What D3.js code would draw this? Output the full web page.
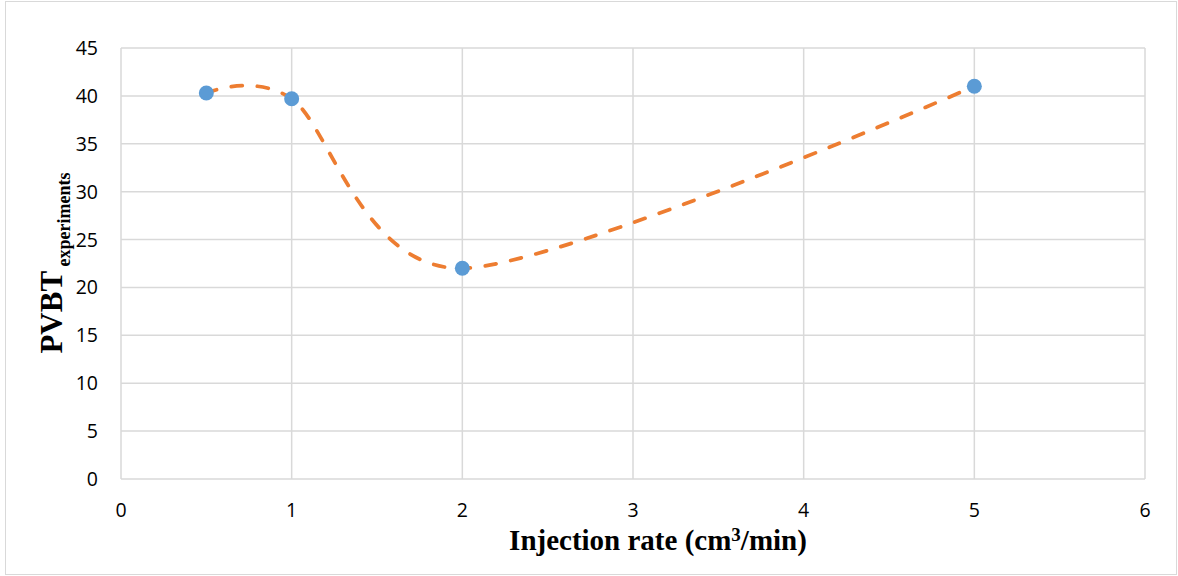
<!DOCTYPE html>
<html>
<head>
<meta charset="utf-8">
<script src="https://cdn.jsdelivr.net/npm/d3@7"></script>
<style>
  html, body { margin: 0; padding: 0; background: #fff; }
  svg { display: block; }
</style>
</head>
<body>
<svg id="chart" width="1178" height="576"></svg>
<script>
// Injection rate (cm3/min) vs. PVBT from experiments
const injectionRate = [0.5, 1, 2, 5];
const pvbt = [40.3, 39.7, 22.0, 41.0];
const xTicks = [0, 1, 2, 3, 4, 5, 6];
const yTicks = [0, 5, 10, 15, 20, 25, 30, 35, 40, 45];

const svg = d3.select("#chart");
const W = 1178, H = 576;
const plot = { left: 121, top: 48, right: 1145, bottom: 479 };

// outer frame
svg.append("rect")
  .attr("x", 5.5).attr("y", 1.5)
  .attr("width", W - 7).attr("height", H - 3)
  .attr("fill", "#fff").attr("stroke", "#d9d9d9").attr("stroke-width", 1);

const x = d3.scaleLinear().domain([0, 6]).range([plot.left, plot.right]);
const y = d3.scaleLinear().domain([0, 45]).range([plot.bottom, plot.top]);

const grid = svg.append("g");
grid.selectAll("line.v").data(xTicks).join("line")
  .attr("x1", d => x(d)).attr("x2", d => x(d))
  .attr("y1", plot.top).attr("y2", plot.bottom)
  .attr("stroke", "#d9d9d9").attr("stroke-width", 1.5);
grid.selectAll("line.h").data(yTicks).join("line")
  .attr("x1", plot.left).attr("x2", plot.right)
  .attr("y1", d => y(d)).attr("y2", d => y(d))
  .attr("stroke", "#d9d9d9").attr("stroke-width", 1.5);

// tick labels
const tickFont = "'Open Sans', sans-serif";
svg.append("g").selectAll("text").data(yTicks).join("text")
  .attr("x", 98).attr("y", d => y(d)).attr("dy", "0.36em")
  .attr("text-anchor", "end")
  .attr("font-family", tickFont).attr("font-size", 19.5).attr("fill", "#000")
  .text(d => d);
svg.append("g").selectAll("text").data(xTicks).join("text")
  .attr("x", d => x(d)).attr("y", 517)
  .attr("text-anchor", "middle")
  .attr("font-family", tickFont).attr("font-size", 19.5).attr("fill", "#000")
  .text(d => d);

// smoothed dashed trend
const pts = injectionRate.map((r, i) => [r, pvbt[i]]);
const line = d3.line().x(d => x(d[0])).y(d => y(d[1])).curve(d3.curveCardinal.tension(0.12));
svg.append("path").datum(pts)
  .attr("d", line)
  .attr("fill", "none").attr("stroke", "#ed7d31")
  .attr("stroke-width", 3.75).attr("stroke-dasharray", "11,15")
  .attr("stroke-linecap", "round");

// data markers
svg.append("g").selectAll("circle").data(pts).join("circle")
  .attr("cx", d => x(d[0])).attr("cy", d => y(d[1])).attr("r", 7.5)
  .attr("fill", "#5b9bd5");

// axis titles
const serif = "'Liberation Serif', 'Times New Roman', serif";
const xt = svg.append("text")
  .attr("x", 658).attr("y", 550).attr("text-anchor", "middle")
  .attr("font-family", serif).attr("font-weight", "bold").attr("font-size", 29);
xt.append("tspan").text("Injection rate (cm");
xt.append("tspan").attr("font-size", 19).attr("dy", -9).text("3");
xt.append("tspan").attr("dy", 9).text("/min)");

const yt = svg.append("text")
  .attr("transform", "translate(62,263) rotate(-90)")
  .attr("text-anchor", "middle")
  .attr("font-family", serif).attr("font-weight", "bold");
yt.append("tspan").attr("font-size", 31).text("PVBT");
yt.append("tspan").attr("font-size", 18).attr("dy", 8).text(" experiments");
</script>
</body>
</html>
